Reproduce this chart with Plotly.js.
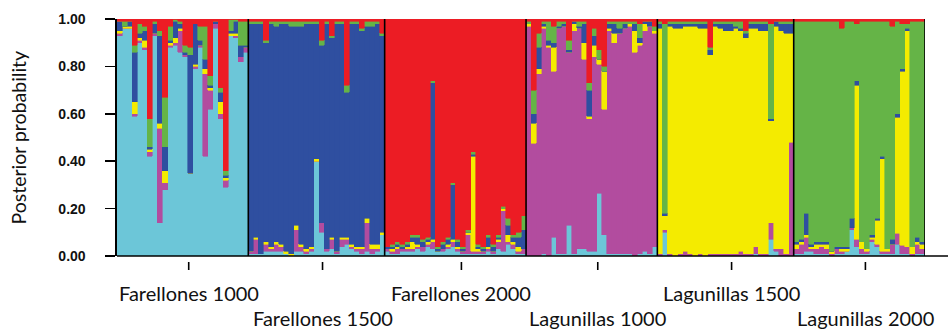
<!DOCTYPE html>
<html><head><meta charset="utf-8">
<script src="https://cdn.plot.ly/plotly-3.0.1.min.js"></script>
<style>html,body{margin:0;padding:0;background:#fff}#chart{width:950px;height:329px}</style>
</head><body><div id="chart"></div>
<script>
// Populations (x groups)
const populations = ['Farellones 1000','Farellones 1500','Farellones 2000','Lagunillas 1000','Lagunillas 1500','Lagunillas 2000'];
// Clusters, stacked bottom to top
const clusterNames = ['Cluster light blue','Cluster magenta','Cluster yellow','Cluster blue','Cluster green','Cluster red'];
const clusterColors = ['#6CC6D8','#B24C9F','#F4EB00','#2F4FA0','#65B447','#EC1C24'];
const yTicks = [0, 0.2, 0.4, 0.6, 0.8, 1.0];

// Farellones 1000
const F1000_lightblue = [.93,.96,.96,.59,.90,.87,.42,.93,.14,.28,.88,.89,.86,.84,.35,.79,.88,.42,.62,.96,.58,.29,.93,.92,.82,.86];
const F1000_magenta   = [.01,0,0,.01,.01,.01,.02,.01,.40,.03,.01,.01,.09,.01,0,.01,.01,.35,.08,.02,.02,.03,0,.01,.02,.02];
const F1000_yellow    = [.01,.01,.01,.05,.01,.03,.01,0,.02,.05,.01,.02,.01,0,0,.01,0,.02,.01,0,.05,.01,.01,.01,0,0];
const F1000_blue      = [.04,0,.02,.21,.02,.04,.01,.04,.37,.10,.01,.07,.02,.01,.50,.17,.02,.04,.01,.01,.04,.01,.01,.05,.05,.01];
const F1000_green     = [0,.02,0,.03,.04,.02,.12,.01,.02,.21,.06,.01,.01,.03,.03,0,.06,.14,.04,0,.02,.02,.05,.01,.10,.10];
const F1000_red       = [.01,.01,.01,.11,.02,.03,.42,.01,.05,.33,.03,0,.01,.11,.12,.02,.03,.03,.24,.01,.29,.64,0,0,.01,.01];

// Farellones 1500
const F1500_lightblue = [.01,.01,.01,.02,.02,.02,.02,.01,0,.02,.02,.01,.02,.40,.10,.02,.03,.01,.04,.05,.03,.02,.01,.02,.01,.02,.09];
const F1500_magenta   = [.01,.06,0,.03,.01,.03,.02,0,0,.09,.02,.01,.01,0,.04,.01,.04,.01,.03,.02,.01,.01,.02,.12,.02,.01,0];
const F1500_yellow    = [0,.01,0,.01,.01,.01,.01,.01,.01,.02,.01,.01,.01,.01,0,0,.01,0,.01,.01,.01,.01,.01,.02,.02,.02,.01];
const F1500_blue      = [.96,.90,.97,.84,.94,.91,.93,.96,.96,.84,.92,.95,.94,.57,.75,.95,.84,.96,.90,.61,.93,.94,.91,.81,.92,.93,.83];
const F1500_green     = [.01,.01,.01,.01,.01,.02,.01,.01,.02,.02,.02,.01,.01,.01,.02,.01,.01,.01,.01,.03,.01,.01,.01,.02,.02,.01,.01];
const F1500_red       = [.01,.01,.01,.09,.01,.01,.01,.01,.01,.01,.01,.01,.01,.01,.09,.01,.07,.01,.01,.28,.01,.01,.04,.01,.01,.01,.06];

// Farellones 2000
const F2000_lightblue = [.02,.01,.01,.02,.02,.02,.03,.02,.04,.03,.02,.02,.03,.04,.02,.01,.01,.01,.01,.01,.02,.01,.03,.02,.05,.03,.01,.01];
const F2000_magenta   = [.01,.01,.02,.01,.01,.01,.01,.02,.01,.03,0,.01,.01,.02,.01,.01,.08,.01,.01,.01,.01,.01,.03,.17,.01,.02,.01,.02];
const F2000_yellow    = [0,.01,.01,0,.01,.03,.01,0,.01,.01,0,0,.01,.01,.01,0,.01,.40,.01,0,.01,0,.01,.01,.03,.01,.02,0];
const F2000_blue      = [.01,.01,.01,.01,.01,.02,.03,.02,.01,.66,.01,.02,.02,.23,.02,.01,0,.01,.01,.01,.04,.02,.01,0,.04,.02,.04,.08];
const F2000_green     = [0,.01,.01,.01,.01,.01,.01,.01,.01,.01,.01,.01,.01,.01,.01,.01,.01,.01,.01,.01,.01,.01,.01,.01,.03,.01,.02,.06];
const F2000_red       = [.96,.95,.94,.95,.94,.91,.91,.93,.92,.26,.96,.94,.92,.69,.93,.96,.89,.56,.95,.96,.91,.95,.91,.79,.84,.91,.90,.83];

// Lagunillas 1000
const L1000_lightblue = [0,0,0,.01,0,.08,.01,.01,.13,.01,.03,.03,.02,.02,.265,.09,.01,.01,.01,.01,.01,0,.01,.02,.01,.04];
const L1000_magenta   = [.97,.475,.77,.95,.88,.70,.95,.96,.73,.94,.93,.80,.56,.82,.545,.53,.94,.89,.93,.95,.96,.86,.88,.93,.96,.90];
const L1000_yellow    = [.01,.085,.02,.01,.01,.10,0,0,0,.03,0,.07,.01,.05,.02,.16,.01,.04,0,0,.01,.09,.01,.03,0,.01];
const L1000_blue      = [0,.04,.09,.01,.02,.02,.01,.01,.01,.01,.01,.08,.11,.04,0,0,.02,.04,.02,.02,0,.03,.02,.01,.02,0];
const L1000_green     = [.01,.10,.06,.01,.08,.07,.02,.01,.04,0,.02,.01,.03,.03,.04,.02,.01,.01,.03,.01,.01,.01,.06,0,0,.02];
const L1000_red       = [.01,.30,.06,.01,.01,.03,.01,.01,.09,.01,.01,.01,.27,.04,.13,.20,.01,.01,.01,.01,.01,.01,.02,.01,.01,.03];

// Lagunillas 1500
const L1500_lightblue = [0,.10,0,0,0,0,0,0,0,0,0,0,0,0,0,0,0,0,0,.01,0,0,.07,.02,0,0,0];
const L1500_magenta   = [.01,.01,.01,0,.01,.02,.01,0,.01,0,.01,.01,.01,.01,.01,.01,.02,.01,.01,.03,.01,.01,.07,.01,.03,.01,.48];
const L1500_yellow    = [.95,.06,.96,.96,.95,.95,.96,.97,.95,.96,.84,.96,.95,.94,.94,.95,.93,.91,.95,.92,.94,.94,.43,.94,.92,.93,.46];
const L1500_blue      = [.02,.01,.01,.02,.02,.01,.01,.01,.02,.02,.02,.01,.02,.03,.03,.01,.01,.02,.02,.02,.03,.03,.01,.02,.03,.04,.04];
const L1500_green     = [.01,.80,.01,.01,.01,.01,.01,.01,.01,.01,.01,.01,.01,.01,.01,.02,.03,.01,.01,.01,.01,.01,.40,0,.01,.01,.01];
const L1500_red       = [.01,.02,.01,.01,.01,.01,.01,.01,.01,.01,.12,.01,.01,.01,.01,.01,.01,.05,.01,.01,.01,.01,.02,.01,.01,.01,.01];

// Lagunillas 2000
const L2000_lightblue = [.01,.01,.02,.02,.01,.01,.01,0,.01,.01,.02,.11,.04,.01,.01,.06,.04,.01,.01,.01,.05,.01,.01,0,.01,.01];
const L2000_magenta   = [.02,.04,.06,.01,.02,.03,.02,.01,.02,.01,0,.01,.03,.02,.01,.01,.01,.01,.01,.04,.045,.035,.03,.01,.04,.02];
const L2000_yellow    = [.02,.01,.01,.01,.02,.01,.02,.01,0,.01,.01,0,.65,.03,.01,.01,.10,.39,.01,0,.49,.735,.91,.03,.01,.02];
const L2000_blue      = [.01,.01,.09,.01,.01,.01,.01,0,.01,.01,.01,.04,.02,0,0,.01,.01,.01,0,.02,.015,.01,.01,0,.02,.01];
const L2000_green     = [.93,.92,.81,.94,.93,.93,.93,.97,.95,.92,.95,.83,.24,.93,.96,.90,.83,.57,.96,.90,.39,.19,.02,.95,.91,.93];
const L2000_red       = [.01,.01,.01,.01,.01,.01,.01,.01,.01,.04,.01,.01,.02,.01,.01,.01,.01,.01,.01,.03,.01,.02,.02,.01,.01,.01];

const popData = [
  [F1000_lightblue,F1000_magenta,F1000_yellow,F1000_blue,F1000_green,F1000_red],
  [F1500_lightblue,F1500_magenta,F1500_yellow,F1500_blue,F1500_green,F1500_red],
  [F2000_lightblue,F2000_magenta,F2000_yellow,F2000_blue,F2000_green,F2000_red],
  [L1000_lightblue,L1000_magenta,L1000_yellow,L1000_blue,L1000_green,L1000_red],
  [L1500_lightblue,L1500_magenta,L1500_yellow,L1500_blue,L1500_green,L1500_red],
  [L2000_lightblue,L2000_magenta,L2000_yellow,L2000_blue,L2000_green,L2000_red]
];

const traces = clusterColors.map((c,k)=>({
  type:'bar', name:clusterNames[k], x:[], y:[],
  marker:{color:c, line:{color:c, width:0.6}},
  hoverinfo:'skip', showlegend:false
}));
const groupStarts = [], groupSizes = [];
let start = 0;
popData.forEach(p=>{
  const n = p[0].length;
  groupStarts.push(start); groupSizes.push(n);
  for (let i=0;i<n;i++){
    for (let k=0;k<p.length;k++){ traces[k].x.push(start+i); traces[k].y.push(p[k][i]); }
  }
  start += n;
});
const N = start;

const plotL = 117, plotR = 925, plotT = 19, plotB = 256;
const pw = plotR - plotL, ph = plotB - plotT;
const shapes = [], annotations = [];
groupStarts.forEach((s,g)=>{
  if (g>0) shapes.push({type:'line', xref:'x', yref:'y', x0:s-0.5, x1:s-0.5, y0:0, y1:1, line:{color:'#000', width:1.6}, layer:'above'});
});
shapes.push({type:'line', xref:'x', yref:'y', x0:N-0.5, x1:N-0.5, y0:0, y1:1, line:{color:'#000', width:1.6}, layer:'above'});
shapes.push({type:'line', xref:'paper', yref:'paper', x0:0, x1:(948-plotL)/pw, y0:0, y1:0, line:{color:'#000', width:1.6}});
groupStarts.forEach((s,g)=>{
  const cx = s + groupSizes[g]/2 - 0.5 + 1.2;
  const px = (cx + 0.5)/N;
  shapes.push({type:'line', xref:'paper', yref:'paper', x0:px, x1:px, y0:-6/ph, y1:-14/ph, line:{color:'#000', width:1.6}});
  annotations.push({xref:'paper', yref:'paper', x:px, y:(g%2===0 ? (plotB-293) : (plotB-318))/ph,
    text:populations[g], showarrow:false, xanchor:'center', yanchor:'middle',
    font:{family:'Lato, "Open Sans", sans-serif', size:20, color:'#111'}});
});
annotations.push({xref:'paper', yref:'paper', x:(18-plotL)/pw, y:0.5, text:'Posterior probability',
  textangle:-90, showarrow:false, xanchor:'center', yanchor:'middle',
  font:{family:'Lato, "Open Sans", sans-serif', size:19.5, color:'#111'}});

const layout = {
  width:950, height:329,
  margin:{l:plotL, r:950-plotR, t:plotT, b:329-plotB, pad:0},
  paper_bgcolor:'#fff', plot_bgcolor:'#fff',
  barmode:'stack', bargap:0,
  xaxis:{range:[-0.5, N-0.5], showticklabels:false, ticks:'', showgrid:false, zeroline:false, showline:false, fixedrange:true},
  yaxis:{range:[0,1], tickvals:yTicks, tickformat:'.2f', ticks:'outside', ticklen:10, tickwidth:1.6, tickcolor:'#000',
    showline:true, linecolor:'#000', linewidth:1.6, showgrid:false, zeroline:false, ticklabelstandoff:17,
    tickfont:{family:'"Liberation Sans", Arial, sans-serif', size:14, color:'#111', weight:'bold'}},
  shapes:shapes, annotations:annotations
};
Plotly.newPlot('chart', traces, layout, {displayModeBar:false, staticPlot:true});
</script>
</body></html>
